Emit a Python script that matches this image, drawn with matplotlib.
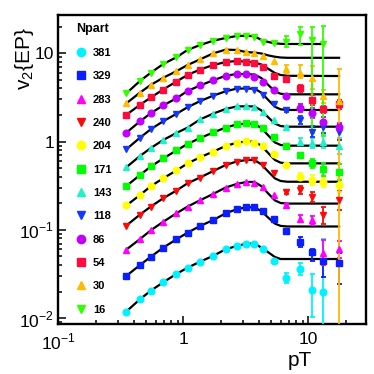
import matplotlib.pyplot as plt
from matplotlib.ticker import FixedLocator, FixedFormatter, LogLocator, NullFormatter

plt.rcParams['font.family'] = ['Liberation Sans', 'DejaVu Sans']
plt.rcParams['mathtext.fontset'] = 'custom'
plt.rcParams['mathtext.rm'] = 'Liberation Sans'

# pT bins (shared by all centralities)
pt = [0.35, 0.45, 0.55, 0.69, 0.88, 1.08, 1.36, 1.74, 2.18, 2.67, 3.2,
      3.68, 4.36, 5.35, 6.6, 8.6, 10.6, 13.2, 17.6]
# knots of the fitted curve above the last low-pT point
fit_pt = [3.7, 4.2, 4.8, 5.4, 6.0, 6.8]

npart = [381, 329, 283, 240, 204, 171, 143, 118, 86, 54, 30, 16]

# v2{EP} (scaled) for each centrality
v2_381 = [0.0119, 0.0164, 0.0205, 0.0255, 0.0317, 0.0373, 0.0436, 0.0510, 0.0603, 0.0657,
          0.0698, 0.0687, 0.0608, 0.0444, 0.0288, 0.0361, 0.0207, 0.0198]
v2_329 = [0.0301, 0.0400, 0.0497, 0.0629, 0.0782, 0.0929, 0.1107, 0.1295, 0.1542, 0.1711,
          0.1803, 0.1803, 0.1637, 0.1328, 0.0972, 0.0729, 0.0555, 0.0444, 0.0422]
v2_283 = [0.0598, 0.0787, 0.0990, 0.1235, 0.154, 0.1836, 0.2163, 0.2563, 0.302, 0.331,
          0.349, 0.342, 0.306, 0.248, 0.189, 0.134, 0.128, 0.055, 0.060]
v2_240 = [0.112, 0.149, 0.184, 0.228, 0.279, 0.337, 0.392, 0.465, 0.543, 0.595,
          0.619, 0.619, 0.543, 0.438, 0.271, 0.283, 0.234, 0.146, 0.217]
v2_204 = [0.189, 0.248, 0.313, 0.384, 0.471, 0.565, 0.664, 0.772, 0.892, 0.969,
          1.003, 0.972, 0.880, 0.724, 0.543, 0.400, 0.367, 0.351, 0.322]
v2_171 = [0.314, 0.418, 0.523, 0.644, 0.793, 0.939, 1.098, 1.268, 1.444, 1.562,
          1.603, 1.582, 1.415, 1.119, 0.899, 0.696, 0.568, 0.486, 0.453]
v2_143 = [0.512, 0.687, 0.846, 1.043, 1.25, 1.44, 1.78, 2.08, 2.34, 2.50,
          2.51, 2.44, 2.18, 1.76, 1.45, 1.00, 0.957, 1.00, 0.892]
v2_118 = [0.818, 1.107, 1.382, 1.70, 2.06, 2.45, 2.87, 3.32, 3.71, 3.98,
          3.99, 3.84, 3.37, 2.67, 2.26, 1.76, 1.29, 1.46, 1.28]
v2_86 = [1.261, 1.693, 2.10, 2.57, 3.09, 3.74, 4.32, 4.96, 5.56, 5.83,
         5.80, 5.39, 4.77, 3.84, 3.26, 2.38, 2.12, 1.68, 1.47]
v2_54 = [2.01, 2.61, 3.16, 3.89, 4.79, 5.68, 6.55, 7.37, 7.96, 8.18,
         8.03, 7.71, 7.05, 5.53, 5.08, 4.02, 2.96, 2.32, 2.66]
v2_30 = [2.71, 3.59, 4.39, 5.28, 6.27, 7.36, 8.53, 10.0, 11.0, 10.9,
         10.3, 10.0, 9.31, 8.18, 6.64, 6.05, 5.25, 3.26, 2.88]
v2_16 = [3.52, 4.86, 6.03, 7.56, 9.01, 10.9, 12.4, 13.9, 14.9, 15.7,
         15.8, 15.4, 13.5, 13.2, 13.5, 16.4, 14.15, 12.65]

# errors on the high-pT points (from pT = 6.6 on), lower / upper
elo_381 = [0.004, 0.005, 0.0105, 0.0197]
ehi_381 = [0.004, 0.006, 0.0107, 0.060]
elo_329 = [0.004, 0.009, 0.011, 0.015, 0.018]
ehi_329 = [0.004, 0.010, 0.005, 0.006, 0.012]
elo_283 = [0.006, 0.012, 0.014, 0.015, 0.012]
ehi_283 = [0.006, 0.013, 0.016, 0.0215, 0.015]
elo_240 = [0.015, 0.031, 0.028, 0.028, 0.05]
ehi_240 = [0.015, 0.034, 0.032, 0.034, 0.06]
elo_204 = [0.02, 0.033, 0.045, 0.045, 0.05]
ehi_204 = [0.02, 0.036, 0.05, 0.05, 0.06]
elo_171 = [0.03, 0.03, 0.06, 0.08, 0.09]
ehi_171 = [0.03, 0.03, 0.07, 0.09, 0.1]
elo_143 = [0.06, 0.085, 0.12, 0.16, 0.17]
ehi_143 = [0.06, 0.085, 0.13, 0.19, 0.2]
elo_118 = [0.1, 0.17, 0.17, 0.2, 0.25]
ehi_118 = [0.1, 0.19, 0.2, 0.24, 0.3]
elo_86 = [0.15, 0.23, 0.25, 0.2, 0.15]
ehi_86 = [0.15, 0.26, 0.29, 0.24, 0.17]
elo_54 = [0.25, 0.35, 0.34, 0.2, 0.3]
ehi_54 = [0.25, 0.35, 0.37, 0.2, 0.3]
elo_30 = [0.6, 0.8, 1.3, 0.54, 2.879]
ehi_30 = [0.7, 1.3, 1.9, 0.6, 3.7]
elo_16 = [1.7, 4.0, 12.9, 11.5]
ehi_16 = [2.1, 3.6, 5.85, 7.85]

# fitted curve above pT = 3.2: values at fit_pt, then the plateau value at the end point
fit_381 = [0.0700, 0.0632, 0.0555, 0.0493, 0.0468, 0.0468, 0.0468]
fit_329 = [0.1803, 0.1633, 0.1367, 0.1178, 0.1110, 0.1093, 0.1093]
fit_283 = [0.349, 0.3137, 0.2563, 0.2158, 0.2016, 0.1986, 0.1986]
fit_240 = [0.619, 0.553, 0.454, 0.383, 0.358, 0.351, 0.351]
fit_204 = [1.0, 0.899, 0.735, 0.619, 0.577, 0.567, 0.567]
fit_171 = [1.59, 1.426, 1.166, 0.979, 0.915, 0.899, 0.899]
fit_143 = [2.50, 2.26, 1.87, 1.60, 1.50, 1.475, 1.475]
fit_118 = [3.98, 3.59, 2.94, 2.48, 2.32, 2.28, 2.28]
fit_86 = [5.75, 5.25, 4.35, 3.71, 3.48, 3.43, 3.43]
fit_54 = [7.87, 7.47, 6.64, 5.98, 5.68, 5.56, 5.53]
fit_30 = [10.2, 9.96, 9.45, 9.14, 8.96, 8.89, 8.89]
fit_16 = [15.6, 14.2, 13.4, 13.0, 12.8, 12.74, 12.74]
fit_end = [17.6, 17.6, 17.6, 17.6, 17.6, 17.6, 17.6, 17.6, 17.6, 17.6, 17.6, 13.2]

series = [
    (v2_381, elo_381, ehi_381, fit_381, 'o', '#00f2ff'),
    (v2_329, elo_329, ehi_329, fit_329, 's', '#0a1eff'),
    (v2_283, elo_283, ehi_283, fit_283, '^', '#ff00ff'),
    (v2_240, elo_240, ehi_240, fit_240, 'v', '#ff0a0a'),
    (v2_204, elo_204, ehi_204, fit_204, 'o', '#ffff00'),
    (v2_171, elo_171, ehi_171, fit_171, 's', '#00ff00'),
    (v2_143, elo_143, ehi_143, fit_143, '^', '#22f0c8'),
    (v2_118, elo_118, ehi_118, fit_118, 'v', '#1438ff'),
    (v2_86, elo_86, ehi_86, fit_86, 'o', '#c000ff'),
    (v2_54, elo_54, ehi_54, fit_54, 's', '#ff0a3c'),
    (v2_30, elo_30, ehi_30, fit_30, '^', '#ffbb00'),
    (v2_16, elo_16, ehi_16, fit_16, 'v', '#33ff00'),
]

fig = plt.figure(figsize=(3.74, 3.74), dpi=100)
ax = fig.add_axes([58.3 / 374, 1 - 323.8 / 374, (366 - 58.3) / 374, (323.8 - 14.5) / 374])

handles = []
for i, (v, lo, hi, fit, mk, col) in enumerate(series):
    n = len(v)
    x = pt[:n]
    # fit curve
    ax.plot(pt[:11] + fit_pt + [fit_end[i]], v[:11] + fit, color='black', lw=1.6, zorder=2)
    # error bars on high-pT points
    k = len(lo)
    ax.errorbar(x[n - k:], v[n - k:], yerr=[lo, hi], fmt='none', ecolor=col,
                elinewidth=1.3, capsize=1.8, capthick=1.3, zorder=3)
    h, = ax.plot(x, v, mk, color=col, ms=4.8, mec=col, ls='none', zorder=4,
                 label=str(npart[i]))
    handles.append(h)

ax.set_xscale('log')
ax.set_yscale('log')
ax.set_xlim(0.1, 28.9)
ax.set_ylim(0.00864, 27.5)

ax.xaxis.set_major_locator(FixedLocator([0.1, 1, 10]))
ax.xaxis.set_major_formatter(FixedFormatter([r'$10^{-1}$', '1', '10']))
ax.yaxis.set_major_locator(FixedLocator([0.01, 0.1, 1, 10]))
ax.yaxis.set_major_formatter(FixedFormatter([r'$10^{-2}$', r'$10^{-1}$', '1', '10']))
for axis in (ax.xaxis, ax.yaxis):
    axis.set_minor_locator(LogLocator(base=10, subs=range(2, 10), numticks=20))
    axis.set_minor_formatter(NullFormatter())
ax.tick_params(which='both', direction='in', top=False, right=False, width=1.1,
               labelsize=12.5)
ax.tick_params(which='major', length=6)
ax.tick_params(which='minor', length=3)
ax.tick_params(axis='x', pad=6)
ax.tick_params(axis='y', pad=3)
for s in ax.spines.values():
    s.set_linewidth(1.7)

fig.text(24 / 374, 1 - 27 / 374, r'v$_{\mathregular{2}}${EP}', rotation=90,
         ha='center', va='top', fontsize=15)
fig.text(300 / 374, 1 - 360 / 374, 'pT', ha='center', va='center', fontsize=15)

leg = ax.legend(handles=handles, loc='upper left', bbox_to_anchor=(0.058, 0.974),
                frameon=False, title='Npart', alignment='left', borderpad=0,
                borderaxespad=0, handlelength=0.9, handletextpad=0.6,
                labelspacing=1.2, markerscale=1.25,
                prop={'size': 8, 'weight': 'bold'},
                title_fontproperties={'size': 9, 'weight': 'bold'})

fig.savefig('out.png', dpi=100)
